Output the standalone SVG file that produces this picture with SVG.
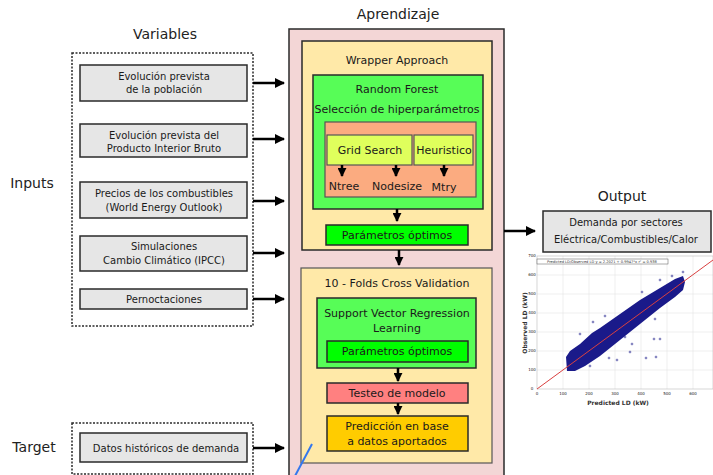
<svg xmlns="http://www.w3.org/2000/svg" width="713" height="475" viewBox="0 0 713 475">
<defs>
<style>
text{font-family:"DejaVu Sans","Verdana",sans-serif;fill:#1a1a1a;text-anchor:middle}
.h{font-size:14px;fill:#222}
.t{font-size:10px}
.m{font-size:11px}
.gray{fill:#e6e6e6;stroke:#2a2a2a;stroke-width:1.5}
.dot{fill:none;stroke:#2a2a2a;stroke-width:1.5;stroke-dasharray:2,1.5}
.bx{stroke:#2a2a2a;stroke-width:1.5}
.arr{stroke:#000;stroke-width:2.5;fill:none}
.ax{font-size:4px;fill:#444}
.grid{stroke:#e4e4e4;stroke-width:0.6}
</style>
<marker id="ah" viewBox="0 0 10 10" refX="9" refY="5" markerWidth="4" markerHeight="4" orient="auto" markerUnits="strokeWidth"><path d="M0,0 L10,5 L0,10 z" fill="#000"/></marker>
<marker id="ah2" viewBox="0 0 10 10" refX="9" refY="5" markerWidth="3.6" markerHeight="3.6" orient="auto" markerUnits="strokeWidth"><path d="M0,0 L10,5 L0,10 z" fill="#000"/></marker>
</defs>

<text class="h" x="165" y="39">Variables</text>
<text class="h" x="32" y="188">Inputs</text>
<text class="h" x="34" y="452">Target</text>
<text class="h" x="398" y="19">Aprendizaje</text>
<text class="h" x="622" y="201">Output</text>

<g id="inputs-group"><rect class="dot" x="72" y="53" width="181" height="273"/></g>
<g id="target-group"><rect class="dot" x="72" y="423" width="181" height="51"/></g>

<g id="n-poblacion"><rect class="gray" x="80" y="65" width="167" height="36"/><text class="t" x="164" y="80">Evolución prevista</text><text class="t" x="164" y="93">de la población</text></g>
<g id="n-pib"><rect class="gray" x="80" y="124" width="167" height="33"/><text class="t" x="164" y="139">Evolución prevista del</text><text class="t" x="164" y="152">Producto Interior Bruto</text></g>
<g id="n-precios"><rect class="gray" x="80" y="182" width="167" height="36"/><text class="t" x="164" y="197">Precios de los combustibles</text><text class="t" x="164" y="211">(World Energy Outlook)</text></g>
<g id="n-ipcc"><rect class="gray" x="80" y="236" width="167" height="35"/><text class="t" x="164" y="250">Simulaciones</text><text class="t" x="164" y="264">Cambio Climático (IPCC)</text></g>
<g id="n-pernoct"><rect class="gray" x="80" y="289" width="167" height="20"/><text class="t" x="164" y="303">Pernoctaciones</text></g>
<g id="n-datos"><rect class="gray" x="80" y="433" width="167" height="29"/><text class="t" x="166" y="452">Datos históricos de demanda</text></g>

<g id="aprendizaje"><rect class="bx" x="289" y="29" width="215" height="460" fill="#f3d6d6"/></g>

<g id="wrapper"><rect class="bx" x="302" y="41" width="190" height="209" fill="#ffe9a8" stroke="#555" stroke-width="1.2"/><text class="m" x="397" y="64" fill="#333">Wrapper Approach</text></g>
<g id="random-forest"><rect class="bx" x="313" y="75" width="170" height="134" fill="#57fd57"/><text class="m" x="397" y="93">Random Forest</text><text class="m" x="397" y="113">Selección de hiperparámetros</text></g>
<g id="hiper"><rect x="325" y="122" width="151" height="75" fill="#fbab80" stroke="#555" stroke-width="1.2"/></g>
<g id="grid-search"><rect x="327" y="135" width="85" height="30" fill="#dfff5c" stroke="#555" stroke-width="1.2"/><text class="m" x="370" y="154">Grid Search</text></g>
<g id="heuristico"><rect x="414" y="135" width="59" height="30" fill="#dfff5c" stroke="#555" stroke-width="1.2"/><text class="m" x="444" y="154">Heuristico</text></g>
<g id="ntree"><text class="m" x="344" y="190">Ntree</text></g>
<g id="nodesize"><text class="m" x="397" y="190">Nodesize</text></g>
<g id="mtry"><text class="m" x="444" y="191">Mtry</text></g>
<g id="param1"><rect class="bx" x="326" y="225" width="142" height="20" fill="#00ff00"/><text class="m" x="397" y="239">Parámetros óptimos</text></g>

<g id="cv"><rect x="301" y="268" width="191" height="195" fill="#ffe9a8" stroke="#555" stroke-width="1.2"/><text class="m" x="397" y="287" fill="#333">10 - Folds Cross Validation</text></g>
<g id="svr"><rect class="bx" x="317" y="298" width="159" height="70" fill="#57fd57"/><text class="m" x="397" y="317">Support Vector Regression</text><text class="m" x="397" y="332">Learning</text></g>
<g id="param2"><rect class="bx" x="327" y="341" width="141" height="21" fill="#00ff00"/><text class="m" x="397" y="355">Parámetros óptimos</text></g>
<g id="testeo"><rect class="bx" x="327" y="383" width="141" height="20" fill="#ff8080"/><text class="m" x="397" y="397">Testeo de modelo</text></g>
<g id="prediccion"><rect class="bx" x="327" y="416" width="141" height="35" fill="#ffcc00"/><text class="m" x="397" y="430">Predicción en base</text><text class="m" x="397" y="445">a datos aportados</text></g>

<g id="demanda"><rect class="gray" x="543" y="211" width="168" height="41"/><text class="t" x="626" y="226">Demanda por sectores</text><text class="t" x="626" y="243">Eléctrica/Combustibles/Calor</text></g>

<g id="plot">
<rect x="523" y="253" width="190" height="160" fill="#fff"/>
<g class="grid">
<line x1="563" y1="256" x2="563" y2="389"/><line x1="589" y1="256" x2="589" y2="389"/><line x1="615" y1="256" x2="615" y2="389"/><line x1="641" y1="256" x2="641" y2="389"/><line x1="667" y1="256" x2="667" y2="389"/><line x1="693" y1="256" x2="693" y2="389"/>
<line x1="537" y1="370" x2="713" y2="370"/><line x1="537" y1="351" x2="713" y2="351"/><line x1="537" y1="332" x2="713" y2="332"/><line x1="537" y1="313" x2="713" y2="313"/><line x1="537" y1="294" x2="713" y2="294"/><line x1="537" y1="275" x2="713" y2="275"/>
</g>
<rect x="537" y="256" width="176" height="133" fill="none" stroke="#bbb" stroke-width="0.6"/>
<rect x="537" y="259" width="131" height="5" fill="#fff" stroke="#555" stroke-width="0.5"/>
<text x="602" y="263" style="font-size:3.6px;fill:#333">Predicted LD/Observed LD   y = 2.2021 + 0.9947*x   r² = 0.938</text>
<g class="ax">
<text x="537" y="395">0</text><text x="563" y="395">100</text><text x="589" y="395">200</text><text x="615" y="395">300</text><text x="641" y="395">400</text><text x="667" y="395">500</text><text x="693" y="395">600</text>
<text x="532" y="390">0</text><text x="532" y="371">100</text><text x="532" y="352">200</text><text x="532" y="333">300</text><text x="532" y="314">400</text><text x="532" y="295">500</text><text x="532" y="276">600</text><text x="532" y="257">700</text>
</g>
<text x="618" y="405" style="font-size:6px;font-weight:bold;fill:#333">Predicted LD (kW)</text>
<text x="0" y="0" transform="translate(527,323) rotate(-90)" style="font-size:6px;font-weight:bold;fill:#333">Observed LD (kW)</text>
<path d="M566,357 L570,351 L580,344 L592,333 L600,328 L620,314 L640,300 L660,288 L675,279 L683,276 L685,282 L683,290 L675,297 L660,308 L640,324 L620,340 L600,356 L585,366 L575,371 L567,371 Z" fill="#1a1a8a"/>
<g fill="none" stroke="#1a1a8a" stroke-width="0.6">
<circle cx="580" cy="334" r="0.9"/><circle cx="593" cy="322" r="0.9"/><circle cx="605" cy="316" r="0.9"/><circle cx="642" cy="292" r="0.9"/><circle cx="660" cy="280" r="0.9"/><circle cx="672" cy="276" r="0.9"/><circle cx="683" cy="272" r="0.9"/>
<circle cx="625" cy="337" r="0.9"/><circle cx="632" cy="344" r="0.9"/><circle cx="654" cy="339" r="0.9"/><circle cx="660" cy="339" r="0.9"/><circle cx="656" cy="357" r="0.9"/><circle cx="655" cy="319" r="0.9"/><circle cx="617" cy="360" r="0.9"/><circle cx="630" cy="352" r="0.9"/><circle cx="609" cy="358" r="0.9"/><circle cx="590" cy="366" r="0.9"/><circle cx="646" cy="358" r="0.9"/><circle cx="672" cy="294" r="0.9"/><circle cx="585" cy="345" r="0.9"/>
</g>
<line x1="537" y1="389" x2="713" y2="260" stroke="#d94040" stroke-width="1"/>
</g>

<g id="connectors">
<line class="arr" x1="253" y1="83" x2="284" y2="83" marker-end="url(#ah)"/>
<line class="arr" x1="253" y1="139" x2="284" y2="139" marker-end="url(#ah)"/>
<line class="arr" x1="253" y1="201" x2="284" y2="201" marker-end="url(#ah)"/>
<line class="arr" x1="253" y1="253" x2="284" y2="253" marker-end="url(#ah)"/>
<line class="arr" x1="253" y1="299" x2="284" y2="299" marker-end="url(#ah)"/>
<line class="arr" x1="253" y1="448" x2="284" y2="448" marker-end="url(#ah)"/>
<line class="arr" x1="504" y1="231" x2="535" y2="231" marker-end="url(#ah)"/>
<line class="arr" x1="342" y1="165" x2="342" y2="176" marker-end="url(#ah2)"/>
<line class="arr" x1="396" y1="165" x2="396" y2="176" marker-end="url(#ah2)"/>
<line class="arr" x1="444" y1="165" x2="444" y2="176" marker-end="url(#ah2)"/>
<line class="arr" x1="397" y1="209" x2="397" y2="221" marker-end="url(#ah2)"/>
<line class="arr" x1="399" y1="250" x2="399" y2="265" marker-end="url(#ah2)"/>
<line class="arr" x1="398" y1="368" x2="398" y2="381" marker-end="url(#ah2)"/>
<line class="arr" x1="398" y1="403" x2="398" y2="414" marker-end="url(#ah2)"/>
<line x1="312" y1="444" x2="295" y2="476" stroke="#3377ee" stroke-width="2"/>
</g>
</svg>
